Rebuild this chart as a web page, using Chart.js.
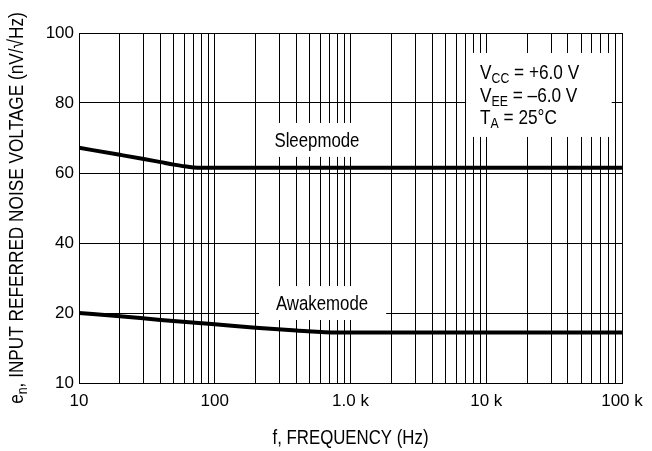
<!DOCTYPE html>
<html>
<head>
<meta charset="utf-8">
<script src="https://cdn.jsdelivr.net/npm/chart.js@4.4.0/dist/chart.umd.min.js"></script>
<style>
  html, body { margin: 0; padding: 0; background: #fff; }
  #wrap { width: 652px; height: 451px; }
</style>
</head>
<body>
<div id="wrap"><canvas id="chart" width="652" height="451"></canvas></div>
<script>
const FONT = "'Liberation Sans', Arial, sans-serif";
const NARROW = 0.82; // squeeze factor to mimic the condensed face of the original

// curves (Hz, nV/rtHz)
const freqSleep = [10, 20, 30, 40, 50, 60, 70, 80, 100000];
const noiseSleep = [67.2, 65.2, 64.0, 63.1, 62.4, 61.9, 61.6, 61.5, 61.5];
const freqAwake = [10, 20, 40, 80, 100, 200, 400, 800, 100000];
const noiseAwake = [20.0, 19.1, 18.0, 17.1, 16.8, 15.8, 15.0, 14.4, 14.4];

const xTickValues = [10, 100, 1000, 10000, 100000];
const xTickLabels = ["10", "100", "1.0 k", "10 k", "100 k"];
// bottom of the axis is labelled 10 (broken axis in the original)
const yTickValues = [0, 20, 40, 60, 80, 100];
const yTickLabels = ["10", "20", "40", "60", "80", "100"];

// vertical grid: 1..9 in every decade
const gridFreqs = [];
for (let d = 10; d < 100000; d *= 10) {
  for (let m = 1; m <= 9; m++) gridFreqs.push(m * d);
}
gridFreqs.push(100000);

function toPoints(xs, ys) {
  return xs.map((x, i) => ({ x: x, y: ys[i] }));
}

// text with subscripts, squeezed horizontally; (x, y) = left end of baseline
function drawRich(ctx, x, y, parts, size, subSize) {
  ctx.save();
  ctx.translate(x, y);
  ctx.scale(NARROW, 1);
  ctx.textAlign = "left";
  ctx.textBaseline = "alphabetic";
  let cx = 0;
  for (const [t, sub] of parts) {
    ctx.font = (sub ? subSize : size) + "px " + FONT;
    ctx.fillText(t, cx, sub ? 4 : 0);
    cx += ctx.measureText(t).width;
  }
  ctx.restore();
}

function richWidth(ctx, parts, size, subSize) {
  let w = 0;
  ctx.save();
  for (const [t, sub] of parts) {
    ctx.font = (sub ? subSize : size) + "px " + FONT;
    w += ctx.measureText(t).width;
  }
  ctx.restore();
  return w * NARROW;
}

function drawCentered(ctx, text, x, y, size) {
  const parts = [[text, false]];
  const w = richWidth(ctx, parts, size, size);
  drawRich(ctx, x - w / 2, y + size * 0.36, parts, size, size);
}

const condLines = [
  [["V", false], ["CC", true], [" = +6.0 V", false]],
  [["V", false], ["EE", true], [" = \u20136.0 V", false]],
  [["T", false], ["A", true], [" = 25\u00B0C", false]],
];

const labelsPlugin = {
  id: "labels",
  beforeDatasetsDraw(chart) {
    const ctx = chart.ctx;
    const xs = chart.scales.x, ys = chart.scales.y;
    const px = (v) => xs.getPixelForValue(v);
    const py = (v) => ys.getPixelForValue(v);
    ctx.save();

    // white boxes that cut the grid
    ctx.fillStyle = "#fff";
    ctx.fillRect(px(225), py(74.3), px(1650) - px(225), py(64.6) - py(74.3));
    ctx.fillRect(px(212), py(27.7), px(1830) - px(212), py(18.0) - py(27.7));
    ctx.fillRect(px(7100), py(94.3), px(84000) - px(7100), py(70.3) - py(94.3));

    ctx.fillStyle = "#000";
    drawCentered(ctx, "Sleepmode", px(566), py(69.4), 20.5);
    drawCentered(ctx, "Awakemode", px(617), py(22.9), 20.5);

    const baseVals = [86.9, 80.4, 74.1];
    condLines.forEach((parts, i) => {
      drawRich(ctx, px(9000), py(baseVals[i]), parts, 21, 15);
    });
    ctx.restore();
  },
  afterDraw(chart) {
    const ctx = chart.ctx;
    const area = chart.chartArea;
    ctx.save();
    ctx.fillStyle = "#000";

    // y title, rotated
    const yParts = [["e", false], ["n", true], [", INPUT REFERRED NOISE VOLTAGE (nV/\u221AHz)", false]];
    const w = richWidth(ctx, yParts, 21, 15);
    ctx.translate(23, (area.top + area.bottom) / 2);
    ctx.rotate(-Math.PI / 2);
    drawRich(ctx, -w / 2, 0, yParts, 21, 15);
    ctx.setTransform(1, 0, 0, 1, 0, 0);

    // x title
    drawCentered(ctx, "f, FREQUENCY (Hz)", (area.left + area.right) / 2, 437, 20.5);
    ctx.restore();
  },
};

new Chart(document.getElementById("chart"), {
  type: "line",
  data: {
    datasets: [
      {
        label: "Sleepmode",
        data: toPoints(freqSleep, noiseSleep),
        borderColor: "#000",
        borderWidth: 4,
        pointRadius: 0,
        fill: false,
        cubicInterpolationMode: "monotone",
      },
      {
        label: "Awakemode",
        data: toPoints(freqAwake, noiseAwake),
        borderColor: "#000",
        borderWidth: 4,
        pointRadius: 0,
        fill: false,
        cubicInterpolationMode: "monotone",
      },
    ],
  },
  options: {
    responsive: false,
    animation: false,
    devicePixelRatio: 1,
    layout: { padding: { top: 33, right: 30, left: 0, bottom: 0 } },
    plugins: {
      legend: { display: false },
      tooltip: { enabled: false },
    },
    scales: {
      x: {
        type: "logarithmic",
        min: 10,
        max: 100000,
        afterBuildTicks: (scale) => {
          scale.ticks = gridFreqs.map((v) => ({ value: v }));
        },
        afterFit: (scale) => {
          scale.height = 68;
        },
        grid: { color: "#000", lineWidth: 1, drawTicks: false },
        border: { color: "#000", width: 1 },
        ticks: {
          autoSkip: false,
          maxRotation: 0,
          minRotation: 0,
          padding: 8,
          color: "#000",
          font: { family: FONT, size: 17 },
          callback: (value) => {
            const i = xTickValues.indexOf(value);
            return i >= 0 ? xTickLabels[i] : "";
          },
        },
      },
      y: {
        type: "linear",
        min: 0,
        max: 100,
        afterBuildTicks: (scale) => {
          scale.ticks = yTickValues.map((v) => ({ value: v }));
        },
        afterFit: (scale) => {
          scale.width = 79;
        },
        grid: { color: "#000", lineWidth: 1, drawTicks: false },
        border: { color: "#000", width: 1 },
        ticks: {
          padding: 5,
          color: "#000",
          font: { family: FONT, size: 17 },
          callback: (value) => {
            const i = yTickValues.indexOf(value);
            return i >= 0 ? yTickLabels[i] : "";
          },
        },
      },
    },
  },
  plugins: [labelsPlugin],
});
</script>
</body>
</html>
